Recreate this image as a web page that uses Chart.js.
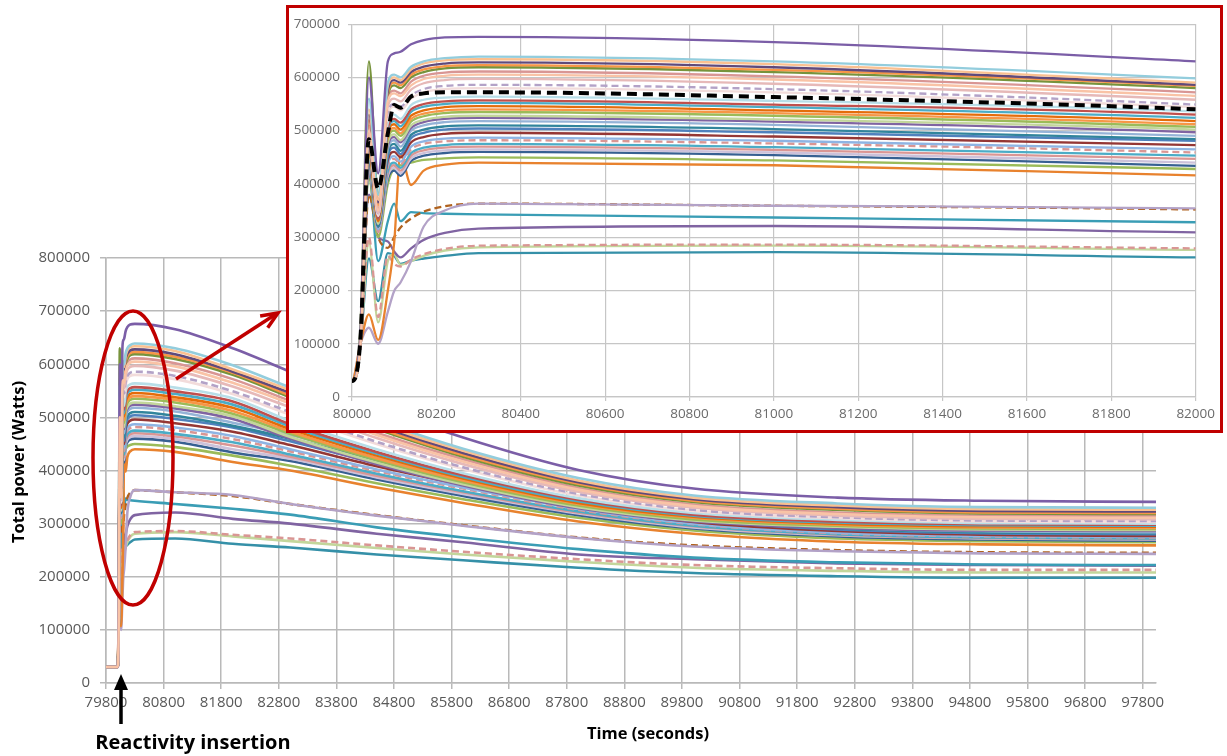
<!DOCTYPE html>
<html>
<head>
<meta charset="utf-8">
<title>Total power after reactivity insertion</title>
<script src="https://cdn.jsdelivr.net/npm/chart.js@4.4.0/dist/chart.umd.min.js"></script>
<style>
  html, body { margin: 0; padding: 0; background: #fff; }
  #page { position: relative; width: 1227px; height: 756px; overflow: hidden; }
  #mainWrap { position: absolute; left: 0; top: 0; width: 1227px; height: 756px; }
  #insetBox { position: absolute; left: 286px; top: 5px; width: 937px; height: 428px;
              box-sizing: border-box; border: 3px solid #C00000; background: #fff; }
  #insetWrap { position: absolute; left: 0; top: 0; width: 931px; height: 422px; }
</style>
</head>
<body>
<div id="page">
  <div id="mainWrap"><canvas id="mainChart"></canvas></div>
  <div id="insetBox"><div id="insetWrap"><canvas id="insetChart"></canvas></div></div>
</div>
<script>
// sample times (seconds)
var timeSec = [79800, 80000, 80020, 80040, 80062, 80085, 80100, 80115, 80140, 80170, 80220, 80300,
               81000, 82000, 83000, 84500, 86000, 88000, 90000, 92500, 95000, 98030];

// tick labels
var mainTicks = [79800, 80800, 81800, 82800, 83800, 84800, 85800, 86800, 87800, 88800,
                 89800, 90800, 91800, 92800, 93800, 94800, 95800, 96800, 97800];
var insetTicks = [80000, 80200, 80400, 80600, 80800, 81000, 81200, 81400, 81600, 81800, 82000];

// total power of each run, in kW, at the times above
var run01 = [30,30,120,600,420,630,645,648,662,670,675,676,666,630,586,519,462,401,366,349,343,341];
var run02 = [30,30,110,560,380,590,605,600,620,630,636,639,630,598,556,494,441,386,353,338,331,330];
var run03 = [30,30,115,540,370,585,600,595,615,626,632,634,625,590,551,489,437,381,349,334,327,326];
var run04 = [30,30,110,530,365,575,595,590,610,620,626,628,619,586,546,485,433,378,346,331,324,323];
var run05 = [30,30,105,520,360,570,590,585,605,615,621,623,614,584,541,481,429,375,343,328,321,320];
var run06 = [30,30,130,630,380,565,585,580,600,610,617,619,610,580,538,478,426,372,341,326,319,318];
var run07 = [30,30,105,510,355,560,575,570,592,603,609,611,602,572,531,471,421,367,336,321,315,314];
var run08 = [30,30,100,500,350,555,570,565,585,597,603,605,596,565,526,467,417,364,333,318,312,311];
var run09 = [30,30,100,495,345,545,560,555,577,589,595,597,588,558,519,461,412,360,330,315,309,308];
var run10 = [30,30,100,490,345,535,550,545,566,578,584,586,578,549,510,454,406,356,326,312,306,305];
var run11 = [30,30,100,485,340,530,545,538,560,572,578,580,572,544,505,450,403,353,324,310,304,303];
var run13 = [30,30,100,480,340,515,530,522,548,558,562,564,556,536,493,440,395,348,320,307,301,300];
var run14 = [30,30,100,470,335,505,522,515,540,550,555,557,549,530,487,435,391,345,317,304,299,298];
var run15 = [30,30,100,470,335,500,518,508,535,545,550,552,544,524,483,432,388,342,315,302,297,296];
var run16 = [30,30,100,465,330,495,512,502,528,538,544,546,538,518,478,428,385,339,313,300,295,294];
var run17 = [30,30,100,460,330,490,505,495,522,532,538,540,533,512,473,423,381,337,311,298,293,292];
var run18 = [30,30,100,460,330,485,500,490,517,527,533,535,528,507,469,420,378,334,308,296,291,290];
var run19 = [30,30,100,455,325,478,493,482,510,520,526,528,521,502,463,415,374,331,306,294,289,288];
var run20 = [30,30,100,455,325,472,488,478,505,516,522,524,517,497,460,412,372,329,304,292,287,286];
var run21 = [30,30,100,450,325,465,482,470,500,510,516,518,511,490,467,424,387,342,312,293,286,284];
var run22 = [30,30,100,450,320,458,475,462,492,502,508,510,503,484,460,419,382,339,309,291,284,282];
var run23 = [30,30,100,445,320,452,468,456,486,496,502,504,497,481,455,414,379,336,307,289,282,280];
var run24 = [30,30,100,440,320,445,460,450,478,488,494,496,489,473,448,408,373,332,303,286,279,277];
var run25 = [30,30,100,440,315,438,452,442,470,480,485,487,481,465,440,402,368,328,300,283,277,275];
var run26 = [30,30,100,435,315,432,447,437,465,475,480,482,476,459,436,399,366,326,299,282,276,274];
var run27 = [30,30,100,430,315,425,440,430,458,468,473,475,469,453,430,394,361,323,296,280,274,272];
var run28 = [30,30,100,430,310,420,435,425,453,463,468,470,464,447,426,390,359,321,295,279,273,271];
var run29 = [30,30,100,425,310,415,430,420,448,458,463,465,459,440,422,387,356,319,293,278,272,270];
var run30 = [30,30,100,420,310,410,425,415,443,453,458,460,454,434,418,383,352,316,291,276,270,268];
var run31 = [30,30,100,410,300,400,430,435,440,445,448,450,444,428,409,376,346,311,287,272,267,265];
var run32 = [30,30,100,155,107,200,290,455,398,425,436,440,435,416,400,368,339,304,281,266,261,259];
var run33 = [30,30,100,130,100,160,199,215,255,320,350,363,359,354,337,315,296,273,257,248,244,243];
var run34 = [30,30,100,380,300,280,300,318,335,348,358,363,359,352,337,316,297,274,259,250,246,245];
var run35 = [30,30,100,420,255,330,363,330,347,345,344,343,337,328,317,293,274,252,236,227,223,222];
var run36 = [30,30,100,380,300,292,273,262,279,295,308,316,321,309,300,281,265,242,233,225,222,221];
var run37 = [30,30,100,300,150,265,250,245,258,268,278,284,286,279,272,259,247,233,222,216,213,213];
var run38 = [30,30,100,290,140,255,268,248,255,265,275,281,284,276,267,254,242,228,217,211,208,208];
var run39 = [30,30,100,260,180,270,265,250,256,260,265,270,272,262,255,242,231,217,207,201,198,198];
// dashed black curve, only in the zoomed view
var meanRun = [30,30,110,484,391,495,548,543,564,570,572,572,563,540,500,446,400,350,322,308,302,301];

var runs = [run01, run02, run03, run04, run05, run06, run07, run08, run09, run10, run11,
            run13, run14, run15, run16, run17, run18, run19, run20, run21, run22, run23,
            run24, run25, run26, run27, run28, run29, run30, run31, run32, run33, run34,
            run35, run36, run37, run38, run39];

var runColors = ['#7B5EA7', '#93CDDD', '#FAC090', '#604A7B', '#F79646', '#77933C', '#D99694',
                 '#F9C3A6', '#E6B9B8', '#B3A2C7', '#F2DCDB', '#B7DEE8', '#C0504D', '#4BACC6',
                 '#E46C0A', '#F79646', '#9BBB59', '#C3D69B', '#8064A2', '#95B3D7', '#31859C',
                 '#4F81BD', '#953735', '#8EB4E3', '#D99694', '#4BACC6', '#DA9694', '#CCC1DA',
                 '#376092', '#9BBB59', '#E8822E', '#B3A2C7', '#B0621E', '#3A9DB5', '#8064A2',
                 '#D99694', '#C3D69B', '#3590A8'];
var dashedRuns = [9, 24, 32, 35];

// Build the line datasets from the run arrays
function buildSets(width) {
    var sets = runs.map(function (vals, i) {
        return {
            label: 'Run ' + (i + 1),
            data: timeSec.map(function (t, k) { return { x: t, y: vals[k] * 1000 }; }),
            borderColor: runColors[i],
            borderWidth: width,
            borderDash: dashedRuns.indexOf(i) >= 0 ? [7, 4] : [],
            pointRadius: 0,
            fill: false,
            cubicInterpolationMode: 'monotone',
            // peach run is drawn on top so the flat start shows in that colour
            order: i === 7 ? -1 : 0
        };
    });
    return sets;
}

var gridGray = '#B9B9B9';

// Annotations of the main chart: titles, ellipse and arrows
var mainNotes = {
    id: 'mainNotes',
    afterDraw: function (chart) {
        var ctx = chart.ctx;
        ctx.save();
        ctx.fillStyle = '#000';
        ctx.font = 'bold 16.5px "Open Sans"';
        ctx.textAlign = 'center';
        ctx.textBaseline = 'middle';
        ctx.fillText('Time (seconds)', 648, 734);

        ctx.save();
        ctx.translate(19, 462);
        ctx.rotate(-Math.PI / 2);
        ctx.fillText('Total power (Watts)', 0, 0);
        ctx.restore();

        ctx.font = 'bold 20px "Open Sans"';
        ctx.fillText('Reactivity insertion', 193, 743);

        // black arrow pointing at the insertion time
        ctx.strokeStyle = '#000';
        ctx.lineWidth = 3.5;
        ctx.beginPath();
        ctx.moveTo(121, 724);
        ctx.lineTo(121, 686);
        ctx.stroke();
        ctx.beginPath();
        ctx.moveTo(121, 674);
        ctx.lineTo(114, 690);
        ctx.lineTo(128, 690);
        ctx.closePath();
        ctx.fill();

        // red ellipse around the start of the transient
        ctx.strokeStyle = '#C00000';
        ctx.lineWidth = 3.5;
        ctx.beginPath();
        ctx.ellipse(133, 458, 40, 147, 0, 0, Math.PI * 2);
        ctx.stroke();

        // red arrow to the zoomed view
        ctx.beginPath();
        ctx.moveTo(176, 379);
        ctx.lineTo(276, 314);
        ctx.stroke();
        var ang = Math.atan2(314 - 379, 276 - 176);
        ctx.beginPath();
        ctx.moveTo(276 - 16 * Math.cos(ang - 0.45), 314 - 16 * Math.sin(ang - 0.45));
        ctx.lineTo(278, 313);
        ctx.lineTo(276 - 16 * Math.cos(ang + 0.45), 314 - 16 * Math.sin(ang + 0.45));
        ctx.stroke();
        ctx.restore();
    }
};

var mainChart = new Chart(document.getElementById('mainChart').getContext('2d'), {
    type: 'line',
    data: { datasets: buildSets(2.6) },
    options: {
        responsive: true,
        maintainAspectRatio: false,
        animation: false,
        layout: { padding: { top: 258, right: 71, left: 0, bottom: 0 } },
        plugins: { legend: { display: false }, tooltip: { enabled: false } },
        scales: {
            x: {
                type: 'linear',
                min: 79800,
                max: 98030,
                afterBuildTicks: function (scale) {
                    scale.ticks = mainTicks.map(function (v) { return { value: v }; });
                },
                afterFit: function (scale) { scale.height = 73; },
                grid: { color: gridGray, lineWidth: 1.5, tickLength: 6 },
                border: { color: gridGray, width: 1.5 },
                ticks: {
                    autoSkip: false, maxRotation: 0, padding: 5,
                    color: '#595959', font: { family: 'Open Sans', size: 15 },
                    callback: function (v) { return String(v); }
                }
            },
            y: {
                min: 0,
                max: 800000,
                afterFit: function (scale) { scale.width = 106; },
                grid: { color: gridGray, lineWidth: 1.5, tickLength: 6 },
                border: { color: gridGray, width: 1.5 },
                ticks: {
                    stepSize: 100000, padding: 10,
                    color: '#595959', font: { family: 'Open Sans', size: 15 },
                    callback: function (v) { return String(v); }
                }
            }
        }
    },
    plugins: [mainNotes]
});

// zoomed view: same runs plus the dashed black curve on top
var insetSets = buildSets(2.3);
insetSets.push({
    label: 'Mean',
    data: timeSec.map(function (t, k) { return { x: t, y: meanRun[k] * 1000 }; }),
    borderColor: '#000',
    borderWidth: 4,
    borderDash: [10, 6],
    pointRadius: 0,
    fill: false,
    cubicInterpolationMode: 'monotone',
    order: -2
});

var insetChart = new Chart(document.getElementById('insetChart').getContext('2d'), {
    type: 'line',
    data: { datasets: insetSets },
    options: {
        responsive: true,
        maintainAspectRatio: false,
        animation: false,
        layout: { padding: { top: 13, right: 22, left: 0, bottom: 0 } },
        plugins: { legend: { display: false }, tooltip: { enabled: false } },
        scales: {
            x: {
                type: 'linear',
                min: 80000,
                max: 82000,
                afterBuildTicks: function (scale) {
                    scale.ticks = insetTicks.map(function (v) { return { value: v }; });
                },
                afterFit: function (scale) { scale.height = 33; },
                grid: { color: '#C6C6C6', lineWidth: 1.2, tickLength: 4 },
                border: { color: '#C6C6C6', width: 1.2 },
                ticks: {
                    autoSkip: false, maxRotation: 0, padding: 5,
                    color: '#6B6B6B', font: { family: 'Open Sans', size: 13.5 },
                    callback: function (v) { return String(v); }
                }
            },
            y: {
                min: 0,
                max: 700000,
                afterFit: function (scale) { scale.width = 63; },
                grid: { color: '#C6C6C6', lineWidth: 1.2, tickLength: 4 },
                border: { color: '#C6C6C6', width: 1.2 },
                ticks: {
                    stepSize: 100000, padding: 8,
                    color: '#6B6B6B', font: { family: 'Open Sans', size: 13.5 },
                    callback: function (v) { return String(v); }
                }
            }
        }
    }
});
</script>
</body>
</html>
